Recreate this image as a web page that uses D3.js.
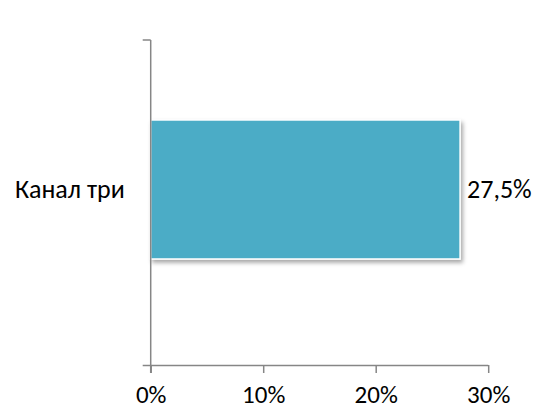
<!DOCTYPE html>
<html><head><meta charset="utf-8">
<script src="https://cdn.jsdelivr.net/npm/d3@7"></script>
<style>body{margin:0;background:#fff}</style>
</head><body>
<svg id="c" width="535" height="410"></svg>
<script>
const categories = ["Канал три"];
const values = [0.275];
const valueLabels = ["27,5%"];
const tickValues = [0, 0.1, 0.2, 0.3];

const svg = d3.select("#c");
const font = "Carlito, Calibri, 'Liberation Sans', sans-serif";
const fs = 26;
const x0 = 150.7, yTop = 40, yBottom = 365;
const x = d3.scaleLinear().domain([0, 0.3]).range([x0, 488.2]);
const y = d3.scaleBand().domain(categories).range([yTop, yBottom]).paddingInner(0.5).paddingOuter(0.3345).align(0.43);

const defs = svg.append("defs");
const f = defs.append("filter").attr("id","sh").attr("x","-10%").attr("y","-10%").attr("width","130%").attr("height","130%");
f.append("feDropShadow").attr("dx",2).attr("dy",3).attr("stdDeviation",2).attr("flood-color","#000").attr("flood-opacity",0.35);

// bars
svg.selectAll("rect.bar").data(values).enter().append("rect")
  .attr("class","bar")
  .attr("x", x(0))
  .attr("y", (d,i)=>y(categories[i]))
  .attr("width", d=>x(d)-x(0))
  .attr("height", y.bandwidth())
  .attr("fill","#4BACC6")
  .attr("stroke","#fff").attr("stroke-width",1.5)
  .attr("filter","url(#sh)");

// x axis
const xAxis = d3.axisBottom(x).tickValues(tickValues).tickFormat(d3.format(".0%")).tickSize(8).tickSizeOuter(0);
const gx = svg.append("g").attr("transform",`translate(0,${yBottom})`).call(xAxis);
gx.select(".domain").attr("stroke","#868686").attr("stroke-width",1.5).attr("d",`M${x0-8},0.5H${x(0.3)}`);
gx.selectAll(".tick line").attr("stroke","#868686").attr("stroke-width",1.5);
gx.selectAll(".tick text").attr("font-family",font).attr("font-size",25).attr("fill","#000").attr("y",38).attr("dy",0);

// y axis
const gy = svg.append("g").attr("transform",`translate(${x0},0)`);
gy.append("line").attr("x1",0).attr("x2",0).attr("y1",yTop).attr("y2",yBottom+8).attr("stroke","#868686").attr("stroke-width",1.5);
gy.append("line").attr("x1",-8).attr("x2",0).attr("y1",yTop).attr("y2",yTop).attr("stroke","#868686").attr("stroke-width",1.5);
gy.selectAll("text").data(categories).enter().append("text")
  .attr("x",-26).attr("y",d=>y(d)+y.bandwidth()/2)
  .attr("text-anchor","end").attr("dominant-baseline","central")
  .attr("font-family",font).attr("font-size",fs).attr("fill","#000").text(d=>d);

// value labels
svg.selectAll("text.val").data(values).enter().append("text")
  .attr("class","val")
  .attr("x",d=>x(d)+7).attr("y",(d,i)=>y(categories[i])+y.bandwidth()/2)
  .attr("dominant-baseline","central")
  .attr("font-family",font).attr("font-size",fs).attr("fill","#000").text((d,i)=>valueLabels[i]);
</script>
</body></html>
